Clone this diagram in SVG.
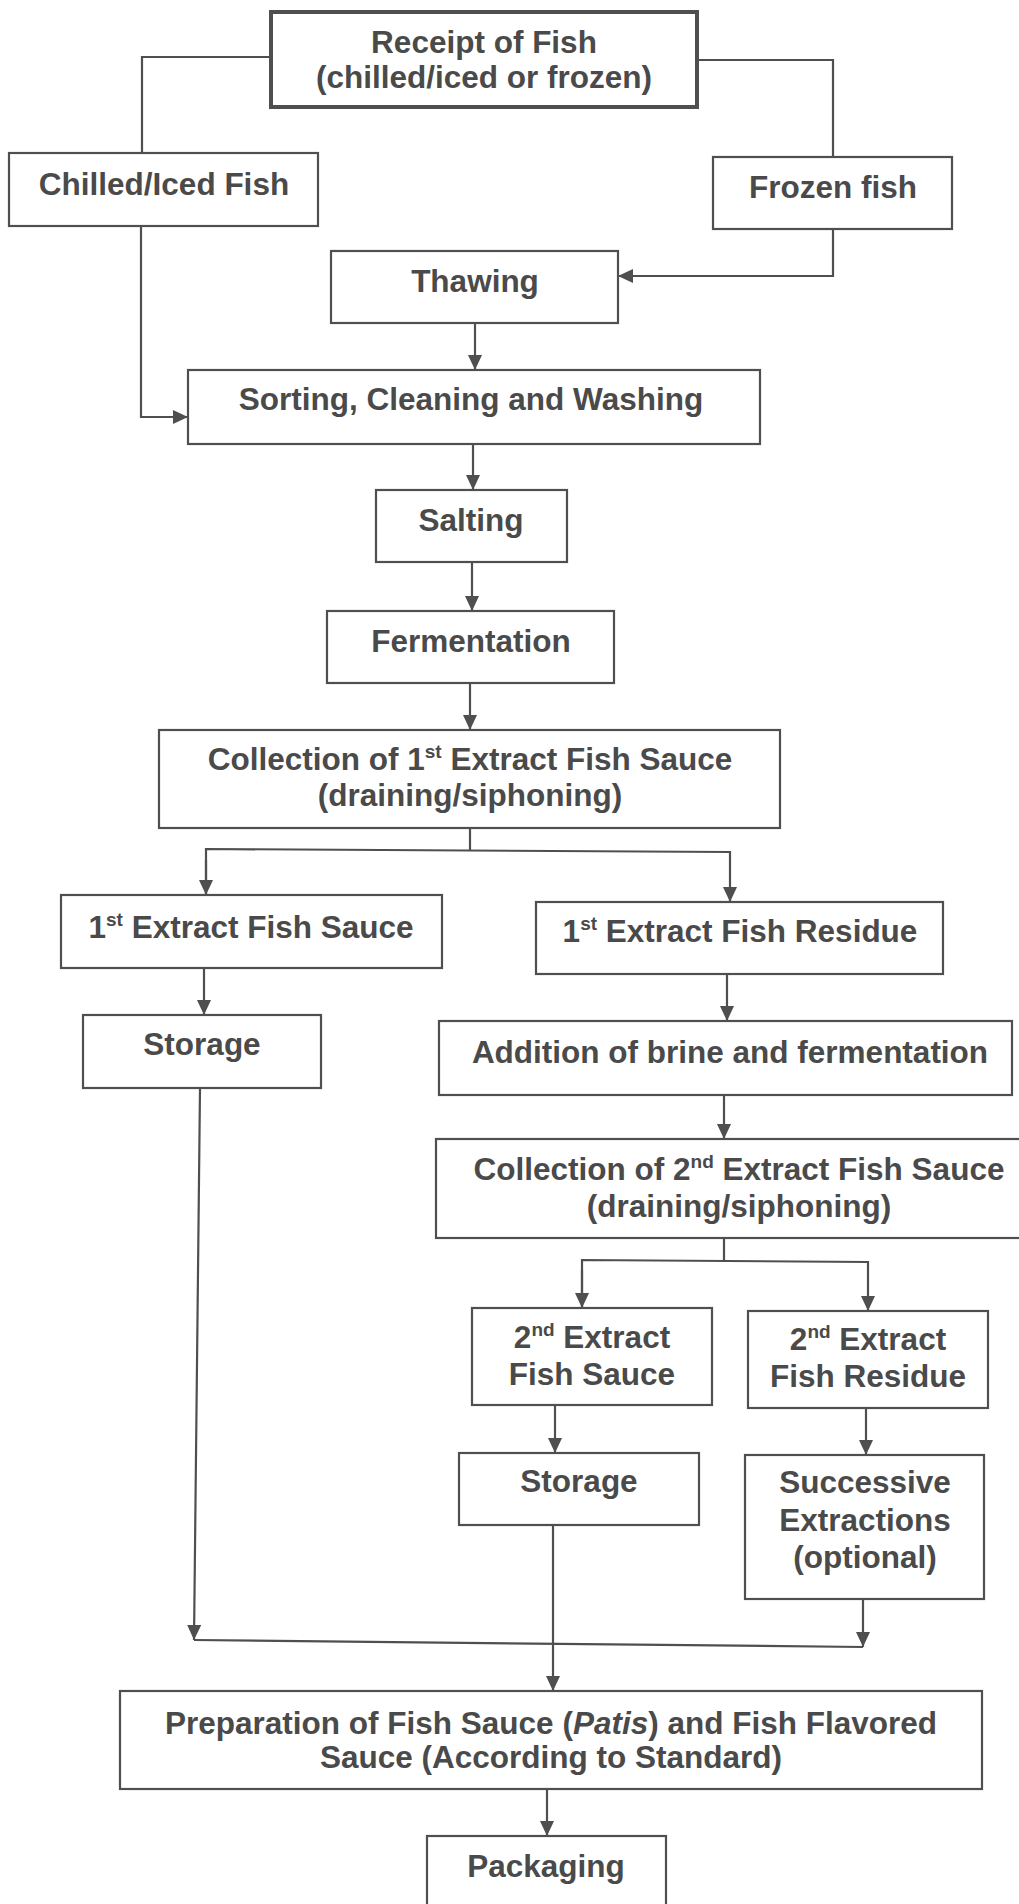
<svg xmlns="http://www.w3.org/2000/svg" width="1019" height="1904" viewBox="0 0 1019 1904">
<style>
.box{fill:#fff;stroke:#4f4f4f;stroke-width:2.2}
.thick{stroke-width:4}
.t{font-family:"Liberation Sans",Arial,sans-serif;font-weight:bold;font-size:31.5px;fill:#4a4a4a;text-anchor:middle}
.sup{font-size:19px}
.c{fill:none;stroke:#4f4f4f;stroke-width:2.2}
</style>
<defs>
<marker id="ah" viewBox="0 0 15 14" refX="15" refY="7" markerWidth="15" markerHeight="14" markerUnits="userSpaceOnUse" orient="auto">
<path d="M0,0 L15,7 L0,14 z" fill="#4f4f4f"/>
</marker>
</defs>
<rect width="1019" height="1904" fill="#fff"/>
<g id="connectors">
<polyline class="c" points="283,57 142,57 142,153"/>
<polyline class="c" points="687,60 833,60 833,157"/>
<polyline class="c" points="833,229 833,276 618,276" marker-end="url(#ah)"/>
<line class="c" x1="475" y1="323" x2="475" y2="370" marker-end="url(#ah)"/>
<polyline class="c" points="141,226 141,417 188,417" marker-end="url(#ah)"/>
<line class="c" x1="473" y1="444" x2="473" y2="490" marker-end="url(#ah)"/>
<line class="c" x1="472" y1="562" x2="472" y2="611" marker-end="url(#ah)"/>
<line class="c" x1="470" y1="683" x2="470" y2="730" marker-end="url(#ah)"/>
<polyline class="c" points="470,828 470,850"/>
<polyline class="c" points="206,895 206,849 730,852 730,902" marker-end="url(#ah)"/>
<line class="c" x1="206" y1="860" x2="206" y2="895" marker-end="url(#ah)"/>
<line class="c" x1="204" y1="968" x2="204" y2="1015" marker-end="url(#ah)"/>
<line class="c" x1="727" y1="974" x2="727" y2="1021" marker-end="url(#ah)"/>
<line class="c" x1="724" y1="1095" x2="724" y2="1139" marker-end="url(#ah)"/>
<polyline class="c" points="724,1237 724,1261"/>
<polyline class="c" points="582,1308 582,1260 868,1262 868,1311" marker-end="url(#ah)"/>
<line class="c" x1="582" y1="1270" x2="582" y2="1308" marker-end="url(#ah)"/>
<line class="c" x1="555" y1="1405" x2="555" y2="1453" marker-end="url(#ah)"/>
<line class="c" x1="866" y1="1408" x2="866" y2="1455" marker-end="url(#ah)"/>
<line class="c" x1="200" y1="1088" x2="194" y2="1640" marker-end="url(#ah)"/>
<line class="c" x1="194" y1="1640" x2="863" y2="1647"/>
<line class="c" x1="863" y1="1599" x2="863" y2="1647" marker-end="url(#ah)"/>
<line class="c" x1="553" y1="1525" x2="553" y2="1691" marker-end="url(#ah)"/>
<line class="c" x1="547" y1="1789" x2="547" y2="1836" marker-end="url(#ah)"/>
</g>
<g id="receipt">
<rect class="box thick" x="271" y="12" width="426" height="95"/>
<text class="t" x="484" y="53">Receipt of Fish</text>
<text class="t" x="484" y="88">(chilled/iced or frozen)</text>
</g>
<g id="chilled">
<rect class="box" x="9" y="153" width="309" height="73"/>
<text class="t" x="164" y="195">Chilled/Iced Fish</text>
</g>
<g id="frozen">
<rect class="box" x="713" y="157" width="239" height="72"/>
<text class="t" x="833" y="198">Frozen fish</text>
</g>
<g id="thawing">
<rect class="box" x="331" y="251" width="287" height="72"/>
<text class="t" x="475" y="292">Thawing</text>
</g>
<g id="sorting">
<rect class="box" x="188" y="370" width="572" height="74"/>
<text class="t" x="471" y="410">Sorting, Cleaning and Washing</text>
</g>
<g id="salting">
<rect class="box" x="376" y="490" width="191" height="72"/>
<text class="t" x="471" y="531">Salting</text>
</g>
<g id="fermentation">
<rect class="box" x="327" y="611" width="287" height="72"/>
<text class="t" x="471" y="652">Fermentation</text>
</g>
<g id="collection1">
<rect class="box" x="159" y="730" width="621" height="98"/>
<text class="t" x="470" y="770">Collection of 1<tspan class="sup" dy="-12">st</tspan><tspan dy="12"> Extract Fish Sauce</tspan></text>
<text class="t" x="470" y="806">(draining/siphoning)</text>
</g>
<g id="sauce1">
<rect class="box" x="61" y="895" width="381" height="73"/>
<text class="t" x="251" y="938">1<tspan class="sup" dy="-12">st</tspan><tspan dy="12"> Extract Fish Sauce</tspan></text>
</g>
<g id="residue1">
<rect class="box" x="536" y="902" width="407" height="72"/>
<text class="t" x="740" y="942">1<tspan class="sup" dy="-12">st</tspan><tspan dy="12"> Extract Fish Residue</tspan></text>
</g>
<g id="storage1">
<rect class="box" x="83" y="1015" width="238" height="73"/>
<text class="t" x="202" y="1055">Storage</text>
</g>
<g id="addition">
<rect class="box" x="439" y="1021" width="573" height="74"/>
<text class="t" x="730" y="1063">Addition of brine and fermentation</text>
</g>
<g id="collection2">
<rect class="box" x="436" y="1139" width="610" height="99"/>
<text class="t" x="739" y="1180">Collection of 2<tspan class="sup" dy="-12">nd</tspan><tspan dy="12"> Extract Fish Sauce</tspan></text>
<text class="t" x="739" y="1217">(draining/siphoning)</text>
</g>
<g id="sauce2">
<rect class="box" x="472" y="1308" width="240" height="97"/>
<text class="t" x="592" y="1348">2<tspan class="sup" dy="-12">nd</tspan><tspan dy="12"> Extract</tspan></text>
<text class="t" x="592" y="1385">Fish Sauce</text>
</g>
<g id="residue2">
<rect class="box" x="748" y="1311" width="240" height="97"/>
<text class="t" x="868" y="1350">2<tspan class="sup" dy="-12">nd</tspan><tspan dy="12"> Extract</tspan></text>
<text class="t" x="868" y="1387">Fish Residue</text>
</g>
<g id="storage2">
<rect class="box" x="459" y="1453" width="240" height="72"/>
<text class="t" x="579" y="1492">Storage</text>
</g>
<g id="successive">
<rect class="box" x="745" y="1455" width="239" height="144"/>
<text class="t" x="865" y="1493">Successive</text>
<text class="t" x="865" y="1531">Extractions</text>
<text class="t" x="865" y="1568">(optional)</text>
</g>
<g id="preparation">
<rect class="box" x="120" y="1691" width="862" height="98"/>
<text class="t" x="551" y="1734">Preparation of Fish Sauce (<tspan font-style="italic">Patis</tspan>) and Fish Flavored</text>
<text class="t" x="551" y="1768">Sauce (According to Standard)</text>
</g>
<g id="packaging">
<rect class="box" x="427" y="1836" width="239" height="80"/>
<text class="t" x="546" y="1877">Packaging</text>
</g>
</svg>
